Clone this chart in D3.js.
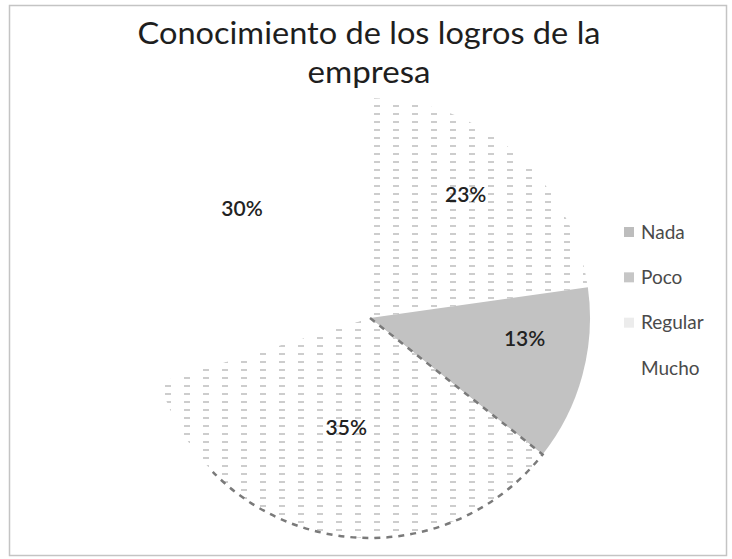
<!DOCTYPE html>
<html>
<head>
<meta charset="utf-8">
<script src="https://cdn.jsdelivr.net/npm/d3@7"></script>
<style>
  html, body { margin: 0; padding: 0; background: #fff; }
  svg { display: block; }
</style>
</head>
<body>
<script>
// ---- data ----
const title = ["Conocimiento de los logros de la", "empresa"];
const categories = ["Nada", "Poco", "Regular", "Mucho"];
const values = [23, 13, 35, 30];
const valueLabels = ["23%", "13%", "35%", "30%"];

// ---- layout / style ----
const W = 732, H = 559;
const cx = 370, cy = 318, R = 220;
const fills = ["url(#dashPat)", "#c2c2c2", "url(#dashPat)", "#ffffff"];
const legendFills = ["#bdbdbd", "#c6c6c6", "#ececec", "#ffffff"];
const titleWidths = [463, 123];
const labelRadius = [155, 156, 112, 158];
const labelNudge = [[-6, -6], [4, -20], [-3, 0], [-1, -15]];

const svg = d3.select("body").append("svg").attr("width", W).attr("height", H);

const defs = svg.append("defs");
const pat = defs.append("pattern").attr("id", "dashPat")
  .attr("patternUnits", "userSpaceOnUse")
  .attr("width", 19).attr("height", 8)
  .attr("x", cx - 6).attr("y", 0);
pat.append("rect").attr("width", 19).attr("height", 8).attr("fill", "#fff");
pat.append("rect").attr("x", 1).attr("y", 3).attr("width", 6).attr("height", 2).attr("fill", "#cdcdcd");

// border
svg.append("rect").attr("x", 9.5).attr("y", 5.5).attr("width", 717).attr("height", 550)
  .attr("fill", "none").attr("stroke", "#c4c4c4").attr("stroke-width", 1.5);

// title
svg.append("g").selectAll("text").data(title).join("text")
  .attr("x", 369).attr("y", (d, i) => 44 + i * 39)
  .attr("text-anchor", "middle")
  .attr("font-family", "Lato, 'Open Sans', sans-serif")
  .attr("font-size", 31).attr("fill", "#1e1e1e")
  .attr("textLength", (d, i) => titleWidths[i])
  .attr("lengthAdjust", "spacingAndGlyphs")
  .text(d => d);

// pie
const pie = d3.pie().sort(null).value(d => d).startAngle(0).endAngle(2 * Math.PI);
const arcs = pie(values);
const arc = d3.arc().innerRadius(0).outerRadius(R);

const g = svg.append("g").attr("transform", `translate(${cx},${cy})`);
g.selectAll("path.slice").data(arcs).join("path")
  .attr("class", "slice")
  .attr("d", arc)
  .attr("fill", (d, i) => fills[i])
  .attr("stroke", "none");

// dashed outline along Regular slice (edge with Poco and lower arc)
const reg = arcs[2];
const aEnd = reg.startAngle + (reg.endAngle - reg.startAngle) * 0.78;
const p = d3.path();
p.moveTo(0, 0);
p.lineTo(R * Math.sin(reg.startAngle), -R * Math.cos(reg.startAngle));
p.arc(0, 0, R, reg.startAngle - Math.PI / 2, aEnd - Math.PI / 2, false);
g.append("path").attr("d", p.toString())
  .attr("fill", "none").attr("stroke", "#7a7a7a")
  .attr("stroke-width", 2.5).attr("stroke-dasharray", "6,6");

// labels
g.selectAll("text.lbl").data(arcs).join("text")
  .attr("class", "lbl")
  .attr("transform", (d, i) => {
    const a = (d.startAngle + d.endAngle) / 2;
    const x = labelRadius[i] * Math.sin(a) + labelNudge[i][0];
    const y = -labelRadius[i] * Math.cos(a) + labelNudge[i][1];
    return `translate(${x},${y})`;
  })
  .attr("text-anchor", "middle").attr("dy", "0.35em")
  .attr("font-family", "Lato, 'Open Sans', sans-serif")
  .attr("font-size", 21).attr("font-weight", 600).attr("fill", "#222")
  .text((d, i) => valueLabels[i]);

// legend
const y = d3.scalePoint().domain(categories).range([232, 368]);
const lg = svg.append("g");
const items = lg.selectAll("g").data(categories).join("g")
  .attr("transform", d => `translate(0,${y(d)})`);
items.append("rect").attr("x", 624).attr("y", -5).attr("width", 10).attr("height", 10)
  .attr("fill", (d, i) => legendFills[i]);
items.append("text").attr("x", 641).attr("dy", "0.35em")
  .attr("font-family", "Lato, 'Open Sans', sans-serif")
  .attr("font-size", 19).attr("fill", "#4a4a4a")
  .text(d => d);
</script>
</body>
</html>
